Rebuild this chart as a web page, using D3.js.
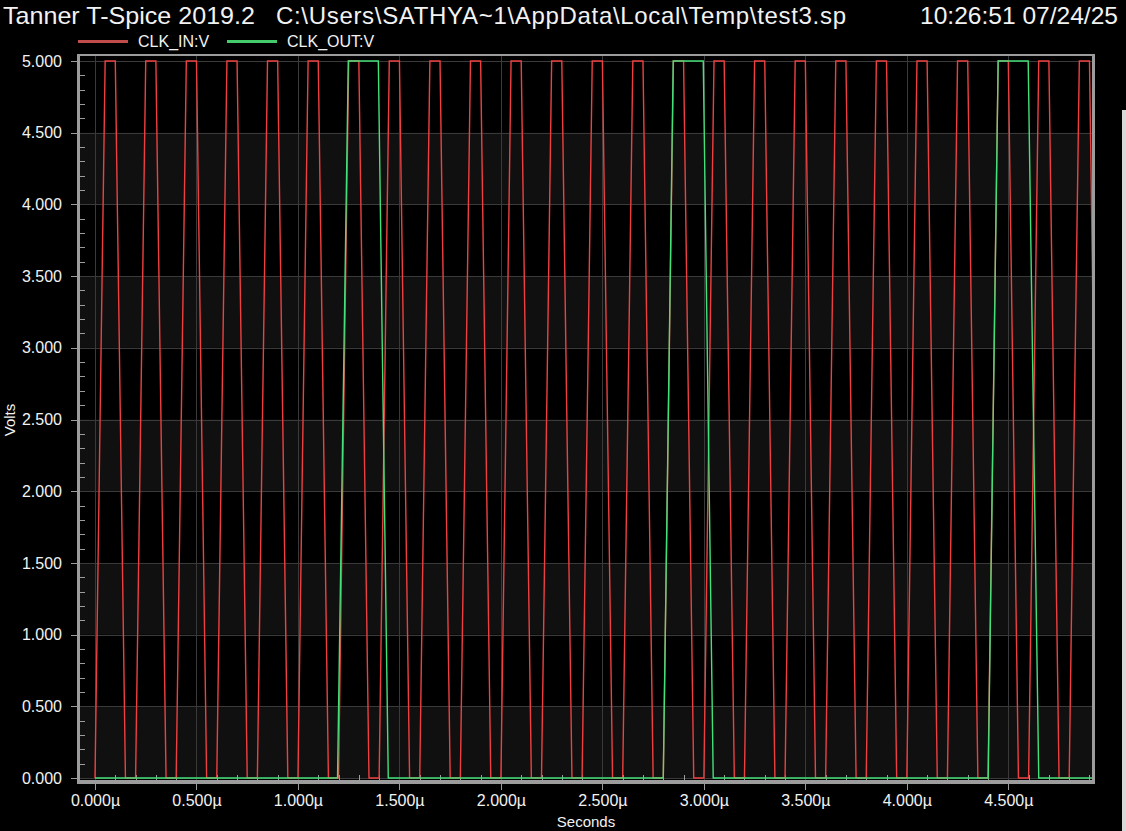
<!DOCTYPE html>
<html>
<head>
<meta charset="utf-8">
<script src="https://cdn.jsdelivr.net/npm/d3@7"></script>
<style>
  html, body { margin: 0; padding: 0; background: #000; }
  svg { display: block; }
  text { font-family: "Liberation Sans", Arial, sans-serif; fill: #f2f2f2; }
</style>
</head>
<body>
<svg id="chart" width="1126" height="831"></svg>
<script>
// ---------- data ----------
const titleLeft = "Tanner T-Spice 2019.2";
const titlePath = "C:\\Users\\SATHYA~1\\AppData\\Local\\Temp\\test3.sp";
const titleTime = "10:26:51 07/24/25";
const seriesNames = ["CLK_IN:V", "CLK_OUT:V"];
const xLabel = "Seconds";
const yLabel = "Volts";

// CLK_IN breakpoints (time in µs, volts)
const clkInT = [
  0.00,0.05,0.10,0.15, 0.20,0.25,0.30,0.35, 0.40,0.45,0.50,0.55, 0.60,0.65,0.70,0.75,
  0.80,0.85,0.90,0.95, 1.00,1.05,1.10,1.15, 1.20,1.25,1.30,1.35, 1.40,1.45,1.50,1.55,
  1.60,1.65,1.70,1.75, 1.80,1.85,1.90,1.95, 2.00,2.05,2.10,2.15, 2.20,2.25,2.30,2.35,
  2.40,2.45,2.50,2.55, 2.60,2.65,2.70,2.75, 2.80,2.85,2.90,2.95, 3.00,3.05,3.10,3.15,
  3.20,3.25,3.30,3.35, 3.40,3.45,3.50,3.55, 3.60,3.65,3.70,3.75, 3.80,3.85,3.90,3.95,
  4.00,4.05,4.10,4.15, 4.20,4.25,4.30,4.35, 4.40,4.45,4.50,4.55, 4.60,4.65,4.70,4.75,
  4.80,4.85,4.90,4.95, 5.00
];
const clkInV = [
  0,5,5,0, 0,5,5,0, 0,5,5,0, 0,5,5,0,
  0,5,5,0, 0,5,5,0, 0,5,5,0, 0,5,5,0,
  0,5,5,0, 0,5,5,0, 0,5,5,0, 0,5,5,0,
  0,5,5,0, 0,5,5,0, 0,5,5,0, 0,5,5,0,
  0,5,5,0, 0,5,5,0, 0,5,5,0, 0,5,5,0,
  0,5,5,0, 0,5,5,0, 0,5,5,0, 0,5,5,0,
  0,5,5,0, 0
];

// CLK_OUT breakpoints (time in µs, volts)
const clkOutT = [0.000, 1.195, 1.248, 1.396, 1.445, 2.800, 2.849, 2.997, 3.046, 4.401, 4.450, 4.598, 4.650, 5.000];
const clkOutV = [0,     0,     5,     5,     0,     0,     5,     5,     0,     0,     5,     5,     0,     0];

// ticks
const yMajorTicks = [0, 0.5, 1.0, 1.5, 2.0, 2.5, 3.0, 3.5, 4.0, 4.5, 5.0];
const yMinorTicks = [0.1,0.2,0.3,0.4, 0.6,0.7,0.8,0.9, 1.1,1.2,1.3,1.4, 1.6,1.7,1.8,1.9,
  2.1,2.2,2.3,2.4, 2.6,2.7,2.8,2.9, 3.1,3.2,3.3,3.4, 3.6,3.7,3.8,3.9, 4.1,4.2,4.3,4.4, 4.6,4.7,4.8,4.9];
const xMajorTicks = [0, 0.5, 1.0, 1.5, 2.0, 2.5, 3.0, 3.5, 4.0, 4.5];
const xMinorTicks = [0.1,0.2,0.3,0.4, 0.6,0.7,0.8,0.9, 1.1,1.2,1.3,1.4, 1.6,1.7,1.8,1.9,
  2.1,2.2,2.3,2.4, 2.6,2.7,2.8,2.9, 3.1,3.2,3.3,3.4, 3.6,3.7,3.8,3.9, 4.1,4.2,4.3,4.4, 4.6,4.7,4.8,4.9];

// ---------- layout ----------
const plotL = 80, plotR = 1092, plotT = 56, plotB = 780;
const colRed = "#ee4040", colGreen = "#44e07a";
const legRed = "#c04c4c", legGreen = "#44cc6c";
const frameCol = "#9c9c9c", gridCol = "#3a3a3a", bandCol = "#101010";

const svg = d3.select("#chart");
svg.append("rect").attr("width", 1126).attr("height", 831).attr("fill", "#000");

const x = d3.scaleLinear().domain([0, 4.5]).range([95, 1008.3]);
const y = d3.scaleLinear().domain([0, 5]).range([778, 61]);

// title
svg.append("text").attr("x", 3).attr("y", 24).attr("font-size", 24)
  .attr("textLength", 252).attr("lengthAdjust", "spacingAndGlyphs").text(titleLeft);
svg.append("text").attr("x", 276).attr("y", 24).attr("font-size", 24)
  .attr("textLength", 570).attr("lengthAdjust", "spacing").text(titlePath);
svg.append("text").attr("x", 920).attr("y", 24).attr("font-size", 24)
  .attr("textLength", 198).attr("lengthAdjust", "spacingAndGlyphs").text(titleTime);

// legend
const legend = [
  {name: seriesNames[0], x0: 78, color: legRed},
  {name: seriesNames[1], x0: 227, color: legGreen}
];
legend.forEach(l => {
  svg.append("line").attr("x1", l.x0).attr("x2", l.x0 + 50).attr("y1", 41.5).attr("y2", 41.5)
    .attr("stroke", l.color).attr("stroke-width", 3);
  svg.append("text").attr("x", l.x0 + 60).attr("y", 47).attr("font-size", 16).text(l.name);
});

// plot background bands
const bandPairs = [];
for (let i = 0; i + 1 < yMajorTicks.length; i += 2) bandPairs.push([yMajorTicks[i], yMajorTicks[i + 1]]);
svg.append("g").selectAll("rect").data(bandPairs).join("rect")
  .attr("x", plotL).attr("width", plotR - plotL)
  .attr("y", d => y(d[1])).attr("height", d => y(d[0]) - y(d[1]))
  .attr("fill", bandCol);

// grid
const grid = svg.append("g").attr("shape-rendering", "crispEdges");
grid.selectAll(".hg").data(yMajorTicks).join("line")
  .attr("x1", plotL).attr("x2", plotR).attr("y1", d => Math.round(y(d)) + 0.5).attr("y2", d => Math.round(y(d)) + 0.5)
  .attr("stroke", gridCol).attr("stroke-width", 1);
grid.selectAll(".vg").data(xMajorTicks).join("line")
  .attr("y1", plotT).attr("y2", plotB).attr("x1", d => Math.round(x(d)) + 0.5).attr("x2", d => Math.round(x(d)) + 0.5)
  .attr("stroke", gridCol).attr("stroke-width", 1);

// minor ticks (inside)
const minor = svg.append("g").attr("shape-rendering", "crispEdges");
minor.selectAll(".ym").data(yMinorTicks).join("line")
  .attr("x1", plotL).attr("x2", plotL + 5).attr("y1", d => Math.round(y(d)) + 0.5).attr("y2", d => Math.round(y(d)) + 0.5)
  .attr("stroke", frameCol);
minor.selectAll(".xm").data(xMinorTicks).join("line")
  .attr("y1", plotB).attr("y2", plotB - 5).attr("x1", d => Math.round(x(d)) + 0.5).attr("x2", d => Math.round(x(d)) + 0.5)
  .attr("stroke", frameCol);

// clip
svg.append("clipPath").attr("id", "clip").append("rect")
  .attr("x", plotL).attr("y", plotT).attr("width", plotR - plotL).attr("height", plotB - plotT);

const line = d3.line().x(d => x(d[0])).y(d => y(d[1]));
const clkIn = clkInT.map((t, i) => [t, clkInV[i]]);
const clkOut = clkOutT.map((t, i) => [t, clkOutV[i]]);

const plot = svg.append("g").attr("clip-path", "url(#clip)");
plot.append("path").datum(clkIn).attr("d", line).attr("fill", "none")
  .attr("stroke", colRed).attr("stroke-width", 1.4).attr("stroke-linejoin", "miter");
plot.append("path").datum(clkOut).attr("d", line).attr("fill", "none")
  .attr("stroke", colGreen).attr("stroke-width", 1.4).attr("stroke-linejoin", "miter");

// frame
const frame = svg.append("g").attr("shape-rendering", "crispEdges");
frame.append("rect").attr("x", 77).attr("y", 54).attr("width", 3).attr("height", 730).attr("fill", frameCol);
frame.append("rect").attr("x", 77).attr("y", 780).attr("width", 1018).attr("height", 4).attr("fill", frameCol);
frame.append("rect").attr("x", 77).attr("y", 54).attr("width", 1018).attr("height", 2).attr("fill", frameCol);
frame.append("rect").attr("x", 1092).attr("y", 54).attr("width", 3).attr("height", 730).attr("fill", frameCol);

// axes (major ticks + labels)
const yAxis = d3.axisLeft(y).tickValues(yMajorTicks).tickFormat(d3.format(".3f")).tickSize(7).tickPadding(9);
const gy = svg.append("g").attr("transform", "translate(78,0)").call(yAxis);
gy.select(".domain").remove();
gy.selectAll(".tick line").attr("stroke", frameCol).attr("shape-rendering", "crispEdges");
gy.selectAll(".tick text").attr("fill", "#f2f2f2").attr("font-size", 16)
  .attr("font-family", "Liberation Sans, Arial, sans-serif");

const xAxis = d3.axisBottom(x).tickValues(xMajorTicks).tickFormat(d => d3.format(".3f")(d) + "µ").tickSize(6).tickPadding(5);
const gx = svg.append("g").attr("transform", "translate(0,784)").call(xAxis);
gx.select(".domain").remove();
gx.selectAll(".tick line").attr("stroke", frameCol).attr("shape-rendering", "crispEdges");
gx.selectAll(".tick text").attr("fill", "#f2f2f2").attr("font-size", 16)
  .attr("font-family", "Liberation Sans, Arial, sans-serif");

// axis titles
svg.append("text").attr("x", 586).attr("y", 827).attr("text-anchor", "middle").attr("font-size", 15).text(xLabel);
svg.append("text").attr("transform", "translate(15,420) rotate(-90)").attr("text-anchor", "middle")
  .attr("font-size", 15).text(yLabel);

// window edge strip
svg.append("rect").attr("x", 1122).attr("y", 110).attr("width", 4).attr("height", 721).attr("fill", "#d8d8d8");
</script>
</body>
</html>
